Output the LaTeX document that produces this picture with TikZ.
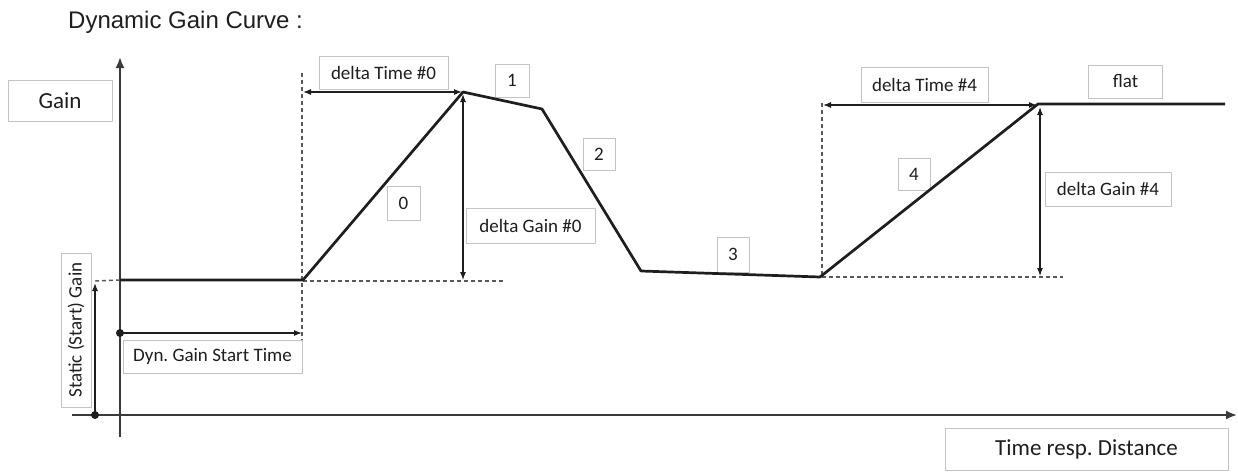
\documentclass[tikz,border=0pt]{standalone}
\usepackage{fontspec}
\setmainfont{Carlito}
\newfontfamily\titlefont{Liberation Sans}
\usetikzlibrary{arrows.meta}
\definecolor{boxgray}{HTML}{C4C4C4}
\definecolor{inkdark}{HTML}{1E1E1E}
\definecolor{axisgray}{HTML}{3A3A3A}
\begin{document}
\begin{tikzpicture}[x=1pt,y=-1pt,
  lbl/.style={draw=boxgray,line width=1pt,fill=white,inner sep=0pt,text=inkdark,
     font=\fontsize{19}{19}\selectfont,align=center},
  bigl/.style={lbl,font=\fontsize{23}{23}\selectfont},
  curve/.style={line width=2.7pt,inkdark,line join=round},
  axis/.style={line width=2pt,axisgray,-{Latex[length=11pt,width=9pt]}},
  dim/.style={line width=1.1pt,inkdark},
  tipd/.style={-{Latex[length=8pt,width=6pt]}},
  dimboth/.style={{Latex[length=8pt,width=6pt]}-{Latex[length=8pt,width=6pt]}},
  guide/.style={line width=1.4pt,black!65,dash pattern=on 4pt off 3pt},
  dotn/.style={circle,fill=inkdark,inner sep=0pt,minimum size=8pt}]
\useasboundingbox (0,0) rectangle (1238,471);

% title
\node[anchor=base west,inner sep=0pt,text=inkdark,font=\titlefont\fontsize{24}{24}\selectfont] (title) at (68,28) {Dynamic Gain Curve :};

% curve points
\coordinate (c0) at (120,280);
\coordinate (c1) at (303,280);
\coordinate (c2) at (463,92);
\coordinate (c3) at (542,109);
\coordinate (c4) at (641,271);
\coordinate (c5) at (820,277);
\coordinate (c6) at (1038,104);
\coordinate (c7) at (1225,104);

% axes
\coordinate (yb) at (120,437);
\coordinate (yt) at (120,57);
\coordinate (xl) at (72,415);
\coordinate (xr) at (1237,415);
\draw[axis] (xl) -- (xr);
\draw[axis] (yb) -- (yt);

% guide helper coordinates
\coordinate (v0t) at (302,73);
\coordinate (v0b) at (302,373);
\coordinate (h0l) at (303,281);
\coordinate (h0r) at (503,281);
\coordinate (v4t) at (822,103);
\coordinate (v4b) at (822,277);
\coordinate (h4r) at (1063,277);
\coordinate (sgl) at (95,281);
\coordinate (sgt) at (95,283);

% dashed guides
\draw[guide] (v0t) -- (v0b);
\draw[guide] (h0l) -- (h0r);
\draw[guide] (v4t) -- (v4b);
\draw[guide] (v4b) -- (h4r);
\draw[guide] (sgl) -- (c0);

% label boxes
\node[bigl,minimum width=104pt,minimum height=41pt] (gain) at (60,100.5) {Gain};
\node[lbl,rotate=90,minimum width=154pt,minimum height=30pt] (static) at (76,330) {Static (Start) Gain};
\node[lbl,minimum width=179pt,minimum height=33pt] (dyn) at (212.5,356.5) {Dyn.\ Gain Start Time};
\node[lbl,minimum width=129pt,minimum height=33pt] (dt0) at (383.5,72.5) {delta Time \#0};
\node[lbl,minimum width=34pt,minimum height=33pt] (s1) at (512,80.5) {1};
\node[lbl,minimum width=33pt,minimum height=34pt] (s0) at (403.5,203) {0};
\node[lbl,minimum width=129pt,minimum height=35pt] (dg0) at (530.5,225.5) {delta Gain \#0};
\node[lbl,minimum width=32pt,minimum height=32pt] (s2) at (599,154) {2};
\node[lbl,minimum width=32pt,minimum height=35pt] (s3) at (733,254.5) {3};
\node[lbl,minimum width=127pt,minimum height=35pt] (dt4) at (924.5,84.5) {delta Time \#4};
\node[lbl,minimum width=74pt,minimum height=33pt] (flat) at (1125.5,81.5) {flat};
\node[lbl,minimum width=32pt,minimum height=32pt] (s4) at (914,174) {4};
\node[lbl,minimum width=126pt,minimum height=34pt] (dg4) at (1108,189) {delta Gain \#4};
\node[bigl,minimum width=283pt,minimum height=42pt] (xlab) at (1086.5,449) {Time resp.\ Distance};

% dimension arrows
\node[dotn] (sgdot) at (95,415) {};
\draw[dim,tipd] (sgdot.center) -- (sgt);
\node[dotn] (dyndot) at (120,333) {};
\coordinate (dynend) at (302,333);
\draw[dim,tipd] (dyndot.center) -- (dynend);

\coordinate (dt0l) at (303,92);
\coordinate (dt0r) at (462,92);
\draw[dim,dimboth] (dt0l) -- (dt0r);
\coordinate (dg0t) at (463,94);
\coordinate (dg0b) at (463,280);
\draw[dim,dimboth] (dg0t) -- (dg0b);

\coordinate (dt4l) at (823,105);
\coordinate (dt4r) at (1037,105);
\draw[dim,dimboth] (dt4l) -- (dt4r);
\coordinate (dg4t) at (1040,107);
\coordinate (dg4b) at (1040,276);
\draw[dim,dimboth] (dg4t) -- (dg4b);

% the gain curve
\draw[curve] (c0) -- (c1) -- (c2) -- (c3) -- (c4) -- (c5) -- (c6) -- (c7);
\end{tikzpicture}
\end{document}
